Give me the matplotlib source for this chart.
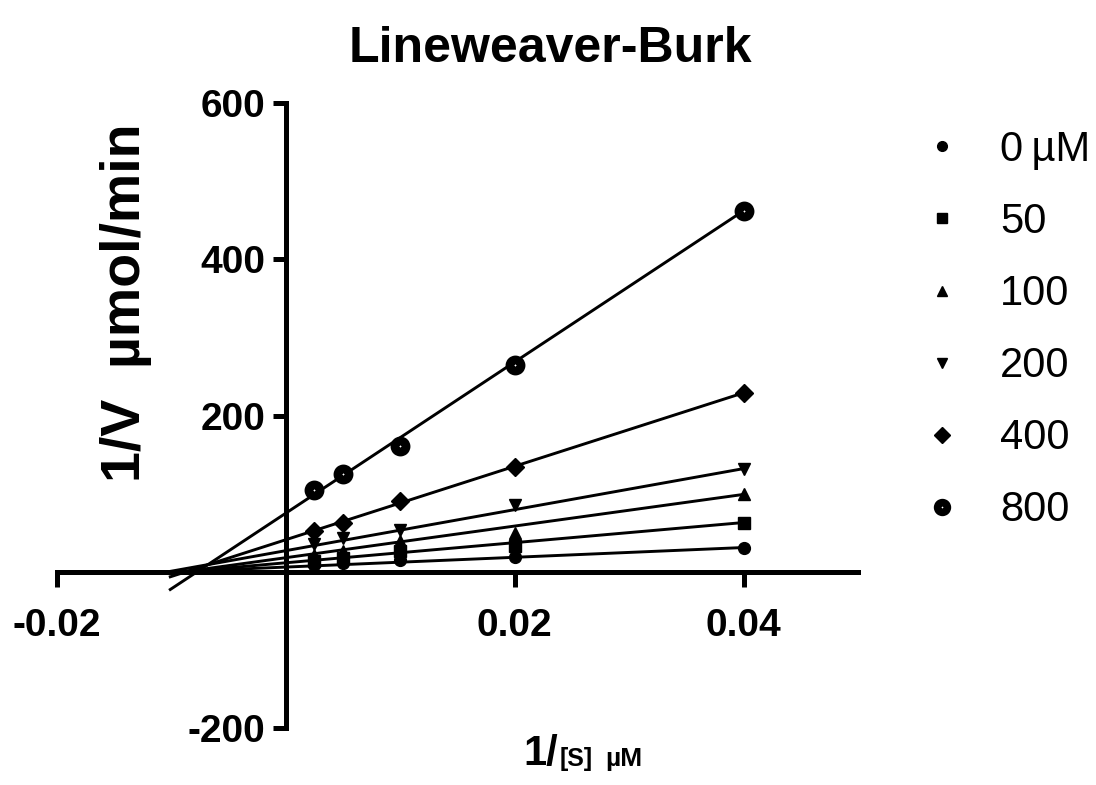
import matplotlib.pyplot as plt
from matplotlib.lines import Line2D

plt.rcParams['font.family'] = ['Liberation Sans', 'DejaVu Sans']

# 1/[S] values (x) and 1/V values for each inhibitor concentration
inv_s = [0.0025, 0.005, 0.01, 0.02, 0.04]
labels = ['0\u2009µM', '50', '100', '200', '400', '800']
v_0 = [9, 11, 15, 19, 31]
v_50 = [14, 18, 26, 33, 63]
v_100 = [21, 27, 40, 50, 99]
v_200 = [36, 43, 54, 86, 132]
v_400 = [52, 63, 90, 134, 229]
v_800 = [105, 125, 161, 265, 462]
series = [v_0, v_50, v_100, v_200, v_400, v_800]

# regression lines: value at 1/[S]=0 and at 1/[S]=0.04
fit_at_0 = [6, 11.5, 18, 27, 41, 75]
fit_at_004 = [31, 63, 99, 132, 229, 462]
line_from = -0.0101
line_to = 0.04

markers = ['o', 's', '^', 'v', 'D', 'o']
sizes = [8.5, 8, 9, 9, 9.5, 8]

fig = plt.figure(figsize=(10.96, 7.85), dpi=100)
ax = fig.add_axes([0.052, 0.0726, 0.7308, 0.7962])

for y0, y1 in zip(fit_at_0, fit_at_004):
    slope = (y1 - y0) / 0.04
    ax.plot([line_from, line_to], [y0 + slope * line_from, y0 + slope * line_to],
            color='black', lw=2.1, zorder=2)

for vals, m, s in zip(series[:-1], markers[:-1], sizes[:-1]):
    ax.plot(inv_s, vals, ls='none', marker=m, ms=s, color='black', zorder=3)
# open circle with a dot for 800
ax.plot(inv_s, series[-1], ls='none', marker='o', ms=sizes[-1], mfc='white',
        mec='black', mew=6.3, zorder=3)

ax.set_xlim(-0.02, 0.05)
ax.set_ylim(-200, 600)
ax.spines['left'].set_position(('data', 0))
ax.spines['bottom'].set_position(('data', 0))
ax.spines['top'].set_visible(False)
ax.spines['right'].set_visible(False)
for sp in ['left', 'bottom']:
    ax.spines[sp].set_linewidth(3.6)

ax.set_xticks([-0.02, 0, 0.02, 0.04])
ax.set_xticklabels(['-0.02', '', '0.02', '0.04'], fontsize=28, fontweight='bold')
ax.set_yticks([-200, 0, 200, 400, 600])
ax.set_yticklabels(['-200', '', '200', '400', '600'], fontsize=28, fontweight='bold')
ax.tick_params(axis='x', direction='out', length=11, width=3.6, pad=15)
ax.tick_params(axis='y', direction='out', length=9.5, width=3.6, pad=5)

fig.text(0.502, 0.921, 'Lineweaver-Burk', ha='center', va='baseline',
         fontsize=36, fontweight='bold')

ax.set_ylabel('1/V  µmol/min', fontsize=40, fontweight='bold', va='baseline')
ax.yaxis.set_label_coords(0.1277, 0.614, transform=fig.transFigure)

# x label built from pieces of different size
fig.text(523 / 1096, 1 - 765 / 785, '1/', fontsize=30, fontweight='bold',
         ha='left', va='baseline')
fig.text(560 / 1096, 1 - 766 / 785, '[S]', fontsize=18, fontweight='bold',
         ha='left', va='baseline')
fig.text(605 / 1096, 1 - 766 / 785, 'µM', fontsize=19, fontweight='bold',
         ha='left', va='baseline')

handles = []
leg_sizes = [7, 6.5, 7.5, 7.5, 8, 7]
for m, s in zip(markers[:-1], leg_sizes[:-1]):
    handles.append(Line2D([], [], ls='none', marker=m, ms=s, color='black'))
handles.append(Line2D([], [], ls='none', marker='o', ms=leg_sizes[-1], mfc='white',
                      mec='black', mew=5.5))
ax.legend(handles, labels, loc='upper left', bbox_to_anchor=(925 / 1096, 1 - 130 / 785),
          bbox_transform=fig.transFigure, frameon=False, fontsize=30,
          handlelength=0.8, handletextpad=1.0, labelspacing=0.77, borderpad=0,
          borderaxespad=0)

fig.savefig('out.png', dpi=100)
